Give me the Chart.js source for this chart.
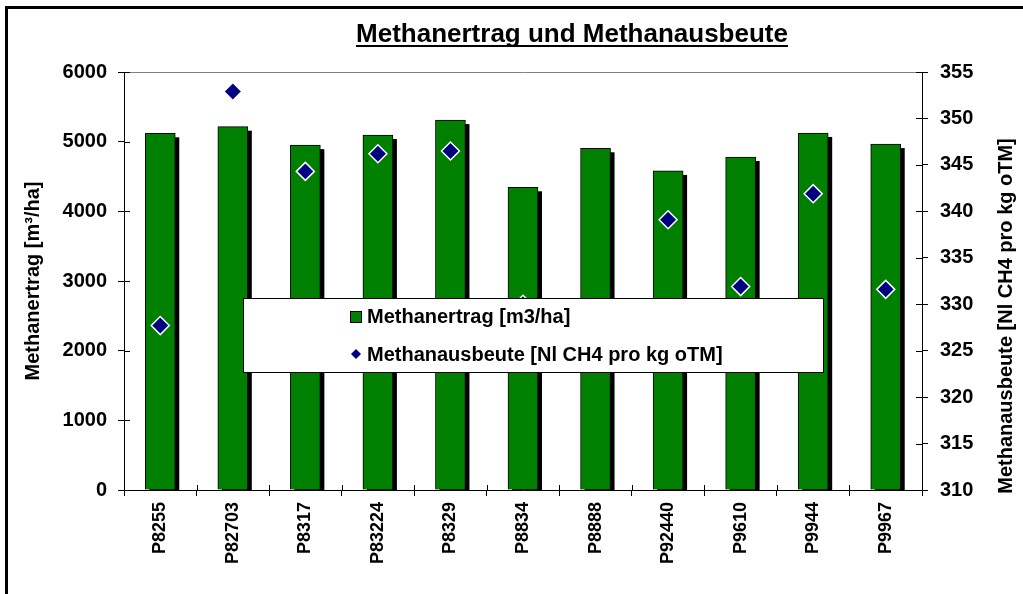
<!DOCTYPE html>
<html>
<head>
<meta charset="utf-8">
<script src="https://cdn.jsdelivr.net/npm/chart.js@4.4.1/dist/chart.umd.min.js"></script>
<style>
html, body { margin: 0; padding: 0; background: #fff; overflow: hidden; }
#wrap { width: 1023px; height: 594px; position: relative; }
</style>
</head>
<body>
<div id="wrap"><canvas id="chart"></canvas></div>
<script>
// data
const categories = ['P8255', 'P82703', 'P8317', 'P83224', 'P8329', 'P8834', 'P8888', 'P92440', 'P9610', 'P9944', 'P9967'];
const methanertrag = [5120, 5215, 4950, 5095, 5310, 4345, 4905, 4580, 4780, 5125, 4965];
const methanausbeute = [327.7, 352.9, 344.3, 346.2, 346.5, 330.0, 327.0, 339.1, 331.9, 341.9, 331.6];
const leftTicks = [0, 1000, 2000, 3000, 4000, 5000, 6000];
const rightTicks = [310, 315, 320, 325, 330, 335, 340, 345, 350, 355];

const chartTitle = 'Methanertrag und Methanausbeute';
const leftTitle = 'Methanertrag [m³/ha]';
const rightTitle = 'Methanausbeute [Nl CH4 pro kg oTM]';
const seriesNames = ['Methanertrag [m3/ha]', 'Methanausbeute [Nl CH4 pro kg oTM]'];

const FONT = "'Liberation Sans', Arial, sans-serif";
const GREEN = '#008000';
const NAVY = '#000080';

// frame, title, right axis title, bar shadows, inner tick marks, legend
const decor = {
  id: 'decor',
  beforeDraw(chart) {
    const c = chart.ctx;
    c.save();
    c.fillStyle = '#fff';
    c.fillRect(0, 0, chart.width, chart.height);
    c.fillStyle = '#000';
    c.fillRect(5, 6, 3, chart.height);
    c.fillRect(5, 6, chart.width, 3);

    c.font = 'bold 26px ' + FONT;
    c.textAlign = 'center';
    c.textBaseline = 'alphabetic';
    c.fillText(chartTitle, 572, 42);
    const w = c.measureText(chartTitle).width;
    c.fillRect(572 - w / 2, 45, w, 2);

    c.translate(1012, 316);
    c.rotate(-Math.PI / 2);
    c.font = 'bold 20px ' + FONT;
    c.fillText(rightTitle, 0, 0);
    c.restore();
  },
  beforeDatasetsDraw(chart) {
    const c = chart.ctx, a = chart.chartArea;
    c.save();
    c.beginPath();
    c.rect(a.left, a.top, a.right - a.left, a.bottom - a.top);
    c.clip();
    c.fillStyle = '#000';
    chart.getDatasetMeta(0).data.forEach(b => {
      const p = b.getProps(['x', 'y', 'base', 'width'], true);
      c.fillRect(p.x - p.width / 2 + 4, p.y + 4, p.width, p.base - p.y);
    });
    c.restore();

    // tick marks crossing into the plot
    c.save();
    c.strokeStyle = '#000';
    c.lineWidth = 1;
    c.beginPath();
    const yl = chart.scales.y, yr = chart.scales.y1, xs = chart.scales.x;
    yl.ticks.forEach(t => {
      const py = Math.round(yl.getPixelForValue(t.value)) + 0.5;
      c.moveTo(a.left, py); c.lineTo(a.left + 6, py);
    });
    yr.ticks.forEach(t => {
      const py = Math.round(yr.getPixelForValue(t.value)) + 0.5;
      c.moveTo(a.right - 6, py); c.lineTo(a.right, py);
    });
    for (let i = 0; i <= categories.length; i++) {
      const px = Math.round(xs.getPixelForValue(i - 0.5)) + 0.5;
      c.moveTo(px, a.bottom); c.lineTo(px, a.bottom - 5);
    }
    c.stroke();
    c.restore();
  },
  afterDatasetsDraw(chart) {
    const c = chart.ctx;
    c.save();
    c.fillStyle = '#fff';
    c.fillRect(243, 298, 581, 74);
    c.strokeStyle = '#000';
    c.lineWidth = 1;
    c.strokeRect(243.5, 298.5, 580, 74);

    c.fillStyle = GREEN;
    c.fillRect(350, 311, 12, 12);
    c.strokeRect(350.5, 311.5, 11, 11);

    c.fillStyle = NAVY;
    c.beginPath();
    c.moveTo(356, 349); c.lineTo(361, 354); c.lineTo(356, 359); c.lineTo(351, 354);
    c.closePath();
    c.fill();

    c.fillStyle = '#000';
    c.font = 'bold 20px ' + FONT;
    c.textAlign = 'left';
    c.textBaseline = 'alphabetic';
    c.fillText(seriesNames[0], 367, 323);
    c.fillText(seriesNames[1], 367, 361);
    c.restore();
  }
};

new Chart(document.getElementById('chart'), {
  type: 'bar',
  data: {
    labels: categories,
    datasets: [
      {
        type: 'bar',
        label: seriesNames[0],
        data: methanertrag,
        yAxisID: 'y',
        backgroundColor: GREEN,
        borderColor: '#000',
        borderWidth: 1,
        barThickness: 30,
        clip: 0,
        order: 2
      },
      {
        type: 'line',
        label: seriesNames[1],
        data: methanausbeute,
        yAxisID: 'y1',
        showLine: false,
        pointStyle: 'rectRot',
        pointRadius: 9,
        pointBackgroundColor: NAVY,
        pointBorderColor: '#fff',
        pointBorderWidth: 1.5,
        clip: false,
        order: 1
      }
    ]
  },
  options: {
    responsive: true,
    maintainAspectRatio: false,
    animation: false,
    layout: { padding: { top: 72, left: 0, right: 0, bottom: 0 } },
    plugins: { legend: { display: false }, title: { display: false }, tooltip: { enabled: false } },
    scales: {
      x: {
        afterFit: s => { s.height = 104; },
        grid: { offset: true, drawOnChartArea: false, drawTicks: true, tickLength: 6, tickColor: '#000' },
        border: { display: true, color: '#000', width: 1 },
        ticks: {
          autoSkip: false, maxRotation: 90, minRotation: 90, padding: 6,
          color: '#000', font: { family: FONT, size: 18, weight: 'bold' }
        }
      },
      y: {
        position: 'left',
        min: 0, max: 6000,
        afterBuildTicks: s => { s.ticks = leftTicks.map(v => ({ value: v })); },
        afterFit: s => { s.width = 124; },
        grid: {
          drawTicks: true, tickLength: 6, tickColor: '#000',
          color: c => (c.tick && c.tick.value === 6000 ? '#808080' : 'rgba(0,0,0,0)')
        },
        border: { display: true, color: '#000', width: 1 },
        ticks: {
          padding: 11, color: '#000', callback: v => String(v),
          font: { family: FONT, size: 20, weight: 'bold' }
        },
        title: {
          display: true, text: leftTitle, color: '#000', padding: { top: 21, bottom: 0 },
          font: { family: FONT, size: 20, weight: 'bold' }
        }
      },
      y1: {
        position: 'right',
        min: 310, max: 355,
        afterBuildTicks: s => { s.ticks = rightTicks.map(v => ({ value: v })); },
        afterFit: s => { s.width = 101; },
        grid: { drawOnChartArea: false, drawTicks: true, tickLength: 6, tickColor: '#000' },
        border: { display: true, color: '#000', width: 1 },
        ticks: {
          padding: 12, color: '#000', callback: v => String(v),
          font: { family: FONT, size: 20, weight: 'bold' }
        }
      }
    }
  },
  plugins: [decor]
});
</script>
</body>
</html>
